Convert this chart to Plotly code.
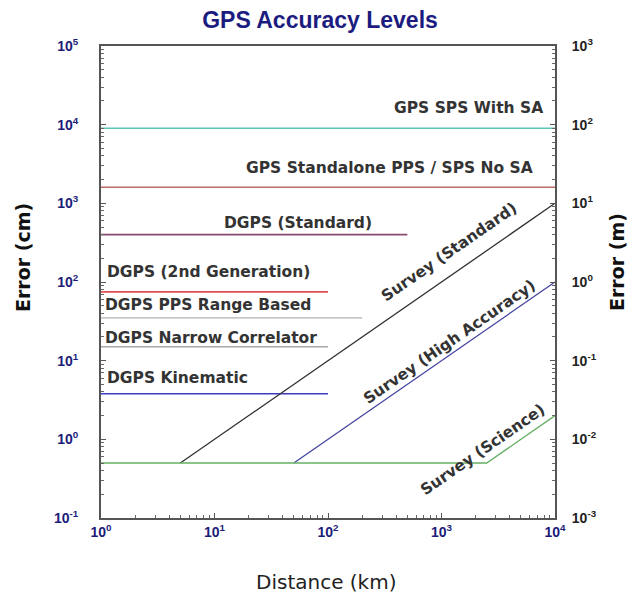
import plotly.graph_objects as go

# ---- data (distance in km, error in cm) ----
level_names = ["GPS SPS With SA", "GPS Standalone PPS / SPS No SA", "DGPS (Standard)",
               "DGPS (2nd Generation)", "DGPS PPS Range Based", "DGPS Narrow Correlator",
               "DGPS Kinematic"]
level_error_cm = [9000, 1600, 400, 75, 35, 15, 3.8]
level_x_start = [1, 1, 1, 1, 1, 1, 1]
level_x_end = [10000, 10000, 500, 100, 200, 100, 100]
level_colors = ["#5cc8b8", "#c06a6a", "#8a4a6e", "#e05050", "#c8c8c8", "#a8a8a8", "#3c3cc0"]

survey_names = ["Survey (Standard)", "Survey (High Accuracy)", "Survey (Science)"]
survey_x = [[5, 10000], [50, 10000], [1, 2500, 10000]]
survey_y = [[0.5, 1000], [0.5, 100], [0.5, 0.5, 2]]
survey_colors = ["#303030", "#4444a0", "#66b066"]

y_tickvals = [0.1, 1, 10, 100, 1000, 10000, 100000]
y_ticktext = ["10<sup>-1</sup>", "10<sup>0</sup>", "10<sup>1</sup>", "10<sup>2</sup>",
              "10<sup>3</sup>", "10<sup>4</sup>", "10<sup>5</sup>"]
y2_tickvals = [0.001, 0.01, 0.1, 1, 10, 100, 1000]
y2_ticktext = ["10<sup>-3</sup>", "10<sup>-2</sup>", "10<sup>-1</sup>", "10<sup>0</sup>",
               "10<sup>1</sup>", "10<sup>2</sup>", "10<sup>3</sup>"]
x_tickvals = [1, 10, 100, 1000, 10000]
x_ticktext = ["10<sup>0</sup>", "10<sup>1</sup>", "10<sup>2</sup>", "10<sup>3</sup>", "10<sup>4</sup>"]

# label positions (log10 coordinates)
level_label_pos = [(3.91, 4.21, "right"), (3.82, 3.45, "right"), (1.74, 2.75, "center"),
                   (0.035, 2.13, "left"), (0.02, 1.71, "left"), (0.02, 1.29, "left"),
                   (0.035, 0.78, "left")]
survey_label_pos = [(3.07, 2.38), (3.07, 1.24), (3.36, -0.13)]

# page has an 8px body margin; plot area lands at x 101..555, y 46..518 in the window
W, H = 633, 588
L, R, T, B = 93, 86, 38, 78

fig = go.Figure()
for name, v, x0, x1, c in zip(level_names, level_error_cm, level_x_start, level_x_end, level_colors):
    fig.add_trace(go.Scatter(x=[x0, x1], y=[v, v], mode="lines", name=name,
                             line=dict(color=c, width=1.6), showlegend=False))
for name, xs, ys, c in zip(survey_names, survey_x, survey_y, survey_colors):
    fig.add_trace(go.Scatter(x=xs, y=ys, mode="lines", name=name,
                             line=dict(color=c, width=1.3), showlegend=False))
# invisible trace to activate right axis (meters)
fig.add_trace(go.Scatter(x=[1, 10000], y=[0.001, 1000], yaxis="y2", mode="markers",
                         marker=dict(opacity=0), showlegend=False, hoverinfo="skip"))

label_font = dict(family="DejaVu Sans", size=15.5, color="#333333")
for name, (lx, ly, anc) in zip(level_names, level_label_pos):
    fig.add_annotation(x=lx, y=ly, text="<b>%s</b>" % name, showarrow=False,
                       xanchor=anc, yanchor="middle", font=label_font)
for name, (lx, ly) in zip(survey_names, survey_label_pos):
    fig.add_annotation(x=lx, y=ly, text="<b>%s</b>" % name, showarrow=False,
                       textangle=-34.7, xanchor="center", yanchor="middle", font=label_font)

def minor_vals(lo, hi):
    vals = []
    k = lo
    while k < hi:
        for m in range(2, 10):
            vals.append(m * 10 ** k)
        k += 1
    return vals

tick_font_blue = dict(family="Liberation Sans, Arial", size=14, color="#1c1c78")
tick_font_black = dict(family="Liberation Sans, Arial", size=14, color="#222222")

def bold(lst):
    return ["<b>%s</b>" % t for t in lst]

fig.update_layout(
    width=W, height=H,
    margin=dict(l=L, r=R, t=T, b=B),
    paper_bgcolor="white", plot_bgcolor="white",
    title=dict(text="<b>GPS Accuracy Levels</b>", x=(320 - 8) / W,
               xanchor="center", y=1 - 12 / H, yanchor="middle",
               font=dict(family="Liberation Sans, Arial", size=23, color="#1c1c80")),
    xaxis=dict(type="log", range=[0, 4], showgrid=False, zeroline=False,
               showline=True, linecolor="#555555", linewidth=2, mirror=True,
               ticks="inside", ticklen=5, tickcolor="#555555",
               tickmode="array", tickvals=x_tickvals, ticktext=bold(x_ticktext),
               tickfont=tick_font_blue,
               minor=dict(ticks="inside", ticklen=3, tickcolor="#666666",
                          tickvals=minor_vals(0, 4), showgrid=False)),
    yaxis=dict(type="log", range=[-1, 5], showgrid=False, zeroline=False,
               showline=True, linecolor="#555555", linewidth=2,
               ticks="inside", ticklen=5, tickcolor="#555555",
               tickmode="array", tickvals=y_tickvals, ticktext=bold(y_ticktext),
               tickfont=tick_font_blue, ticklabelstandoff=18,
               minor=dict(ticks="inside", ticklen=3, tickcolor="#666666",
                          tickvals=minor_vals(-1, 5), showgrid=False)),
    yaxis2=dict(type="log", range=[-3, 3], overlaying="y", side="right",
                showgrid=False, zeroline=False,
                showline=True, linecolor="#555555", linewidth=2,
                ticks="inside", ticklen=5, tickcolor="#555555",
                tickmode="array", tickvals=y2_tickvals, ticktext=bold(y2_ticktext),
                tickfont=tick_font_black, ticklabelstandoff=12,
                minor=dict(ticks="inside", ticklen=3, tickcolor="#666666",
                           tickvals=minor_vals(-3, 3), showgrid=False)),
)

fig.add_annotation(xref="paper", yref="paper", x=(23 - 101) / 454, y=(518 - 258) / 472,
                   xanchor="center", yanchor="middle",
                   text="<b>Error (cm)</b>", textangle=-90, showarrow=False,
                   font=dict(family="DejaVu Sans", size=19, color="#111111"))
fig.add_annotation(xref="paper", yref="paper", x=(617 - 101) / 454, y=(518 - 262) / 472,
                   xanchor="center", yanchor="middle",
                   text="<b>Error (m)</b>", textangle=-90, showarrow=False,
                   font=dict(family="DejaVu Sans", size=19, color="#111111"))
fig.add_annotation(xref="paper", yref="paper", x=(326 - 101) / 454, y=(518 - 582) / 472,
                   xanchor="center", yanchor="middle",
                   text="Distance (km)", showarrow=False,
                   font=dict(family="DejaVu Sans", size=20, color="#222222"))

fig.write_html("out.html")
